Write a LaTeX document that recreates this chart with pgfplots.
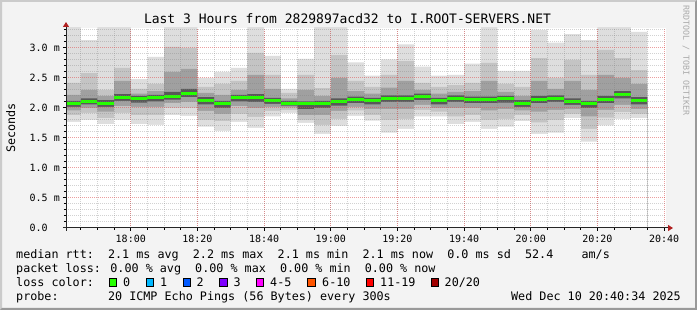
\documentclass[border=0pt]{standalone}
\usepackage{fontspec}
\setmainfont{DejaVu Sans Mono}
\usepackage{pgfplots}
\pgfplotsset{compat=1.18}
\usepackage{pgfplotstable}
\usetikzlibrary{arrows.meta}

\definecolor{bg}{HTML}{F3F3F3}
\definecolor{shadea}{HTML}{CBCBCB}
\definecolor{shadeb}{HTML}{999999}
\definecolor{smokeA}{HTML}{DEDEDE}
\definecolor{smokeB}{HTML}{C4C4C4}
\definecolor{smokeC}{HTML}{A0A0A0}
\definecolor{smokeD}{HTML}{585858}
\definecolor{loss0}{HTML}{26FF00}
\definecolor{loss1}{HTML}{00B8FF}
\definecolor{loss2}{HTML}{0059FF}
\definecolor{loss3}{HTML}{7E00FF}
\definecolor{loss4}{HTML}{FF00FF}
\definecolor{loss6}{HTML}{FF5500}
\definecolor{loss11}{HTML}{FF0000}
\definecolor{loss20}{HTML}{A10000}
\definecolor{mgrid}{HTML}{DE5050}
\definecolor{arrowc}{HTML}{B02020}
\definecolor{credit}{HTML}{AAAAAA}

\newcommand\legfont{\fontsize{11.74}{14}\selectfont}
\newcommand\tickfont{\fontsize{10}{12}\selectfont}
\newcommand\titlefont{\fontsize{13}{15}\selectfont}

\pgfplotstableread{
x lo q10 q25 q40 med q60 q75 q90 hi
-20 1.77 1.88 1.96 2.02 2.07 2.12 2.22 2.42 3.50
-15 1.80 1.92 2.00 2.06 2.11 2.16 2.30 2.58 3.13
-10 1.73 1.83 1.94 2.02 2.08 2.13 2.20 2.30 3.50
-5 1.80 1.92 2.03 2.12 2.18 2.23 2.45 2.67 3.50
0 1.73 1.88 2.02 2.09 2.15 2.20 2.24 2.32 2.48
5 1.72 1.88 2.02 2.11 2.17 2.22 2.28 2.40 2.85
10 1.88 2.00 2.08 2.14 2.19 2.27 2.60 3.02 3.50
15 1.87 2.00 2.10 2.18 2.24 2.32 2.65 3.00 3.50
20 1.69 1.80 1.95 2.06 2.13 2.18 2.25 2.35 2.50
25 1.62 1.78 1.90 2.00 2.07 2.12 2.22 2.40 2.60
30 1.77 1.90 2.03 2.11 2.17 2.22 2.30 2.45 2.67
35 1.67 1.85 2.00 2.10 2.17 2.23 2.55 2.92 3.50
40 1.86 1.95 2.02 2.07 2.12 2.17 2.32 2.55 2.87
45 1.92 1.97 2.01 2.04 2.08 2.12 2.16 2.25 2.32
50 1.75 1.80 1.88 1.98 2.07 2.11 2.30 2.55 2.82
55 1.57 1.72 1.88 2.00 2.07 2.12 2.20 2.33 3.50
60 1.70 1.82 1.95 2.04 2.10 2.16 2.50 2.88 3.50
65 1.87 1.96 2.02 2.08 2.14 2.19 2.28 2.45 2.76
70 1.79 1.88 1.98 2.06 2.12 2.17 2.24 2.35 2.54
75 1.59 1.80 1.98 2.10 2.16 2.21 2.34 2.55 2.81
80 1.65 1.82 1.98 2.10 2.16 2.21 2.45 2.78 3.06
85 1.86 1.97 2.05 2.13 2.19 2.24 2.30 2.42 2.69
90 1.86 1.94 2.00 2.06 2.12 2.17 2.24 2.35 2.54
95 1.73 1.86 2.00 2.10 2.16 2.21 2.27 2.38 2.55
100 1.77 1.88 2.00 2.08 2.14 2.19 2.28 2.42 2.74
105 1.65 1.80 1.96 2.08 2.14 2.19 2.45 2.75 3.50
110 1.69 1.82 1.98 2.09 2.15 2.20 2.27 2.40 2.62
115 1.78 1.88 1.96 2.02 2.08 2.13 2.20 2.35 2.62
120 1.57 1.76 1.94 2.08 2.14 2.20 2.45 2.83 3.30
125 1.59 1.80 1.97 2.10 2.16 2.21 2.32 2.50 3.09
130 1.83 1.90 1.98 2.05 2.11 2.16 2.45 2.80 3.23
135 1.44 1.65 1.86 2.00 2.07 2.12 2.30 2.55 3.13
140 1.71 1.84 1.97 2.08 2.14 2.20 2.55 2.97 3.50
145 1.82 1.93 2.05 2.16 2.22 2.28 2.50 2.83 3.50
150 1.83 1.90 1.98 2.06 2.12 2.18 2.40 2.63 3.27
155 1.83 1.90 1.98 2.06 2.12 2.18 2.40 2.63 3.27
}\smoke

\begin{document}
\begin{tikzpicture}
% background and bevel
\fill[bg] (0pt,0pt) rectangle (697pt,310pt);
\fill[shadea] (0pt,0pt) -- (0pt,310pt) -- (697pt,310pt) -- (695pt,308pt) -- (2pt,308pt) -- (2pt,2pt) -- cycle;
\fill[shadeb] (0pt,0pt) -- (697pt,0pt) -- (697pt,310pt) -- (695pt,308pt) -- (695pt,2pt) -- (2pt,2pt) -- cycle;

\begin{axis}[
  at={(66pt,82pt)}, anchor=south west,
  scale only axis, width=600pt, height=200pt,
  xmin=-19.43, xmax=160.57, ymin=0, ymax=3.3333,
  axis background/.style={fill=white},
  axis on top,
  axis x line*=bottom, axis y line*=left,
  x axis line style={black!85, line width=1pt, -{Triangle[length=5pt,width=6pt,color=arrowc]}, shorten >=-7pt, shorten <=-3pt},
  y axis line style={black!85, line width=1pt, -{Triangle[length=5pt,width=6pt,color=arrowc]}, shorten >=-6pt, shorten <=-3pt},
  xtick={0,20,...,160},
  xticklabels={18:00,18:20,18:40,19:00,19:20,19:40,20:00,20:20,20:40},
  minor xtick={-15,-10,...,155},
  ytick={0,0.5,1,1.5,2,2.5,3},
  yticklabels={0.0\hphantom{\ m},0.5 m,1.0 m,1.5 m,2.0 m,2.5 m,3.0 m},
  minor ytick={0.1,0.2,0.3,0.4,0.6,0.7,0.8,0.9,1.1,1.2,1.3,1.4,1.6,1.7,1.8,1.9,2.1,2.2,2.3,2.4,2.6,2.7,2.8,2.9,3.1,3.2,3.3},
  grid=both,
  major grid style={draw=mgrid, opacity=0.55, line width=1pt, dash pattern=on 1pt off 1pt},
  minor grid style={draw=gray, opacity=0.35, line width=1pt, dash pattern=on 1pt off 1pt},
  tick align=outside,
  major tick length=3pt, minor tick length=2pt,
  tick style={black, line width=1pt},
  xticklabel style={font=\tickfont, anchor=base, inner sep=0pt, yshift=-12pt},
  yticklabel style={font=\tickfont, anchor=east, inner sep=0pt, xshift=-3pt},
]
% smoke: each level filled down to zero, inner levels over outer ones
\addplot[fill=smokeA, draw=none, const plot mark left] table[x=x,y=hi]{\smoke} \closedcycle;
\addplot[fill=smokeB, draw=none, const plot mark left] table[x=x,y=q90]{\smoke} \closedcycle;
\addplot[fill=smokeC, draw=none, const plot mark left] table[x=x,y=q75]{\smoke} \closedcycle;
\addplot[fill=smokeD, draw=none, const plot mark left] table[x=x,y=q60]{\smoke} \closedcycle;
\addplot[fill=smokeC, draw=none, const plot mark left] table[x=x,y=q40]{\smoke} \closedcycle;
\addplot[fill=smokeB, draw=none, const plot mark left] table[x=x,y=q25]{\smoke} \closedcycle;
\addplot[fill=smokeA, draw=none, const plot mark left] table[x=x,y=q10]{\smoke} \closedcycle;
\addplot[fill=white, draw=none, const plot mark left] table[x=x,y=lo]{\smoke} \closedcycle;
\addplot[jump mark left, draw=loss0, line width=3pt] table[x=x,y=med]{\smoke};
\end{axis}

% title and labels
\node[anchor=base, inner sep=0pt, font=\titlefont] at (347.5pt,286.5pt) {Last 3 Hours from 2829897acd32 to I.ROOT-SERVERS.NET};
\node[rotate=90, inner sep=0pt, font=\legfont] at (10.8pt,182pt) {Seconds};
\node[rotate=-90, anchor=west, inner sep=0pt, font=\fontsize{8.3}{10}\selectfont, text=credit] at (686pt,305pt) {RRDTOOL / TOBI OETIKER};

% legend
\node[anchor=base west, inner sep=0pt, font=\legfont] at (16pt,51.3pt) {median rtt:\ \ 2.1 ms avg\ \ 2.2 ms max\ \ 2.1 ms min\ \ 2.1 ms now\ \ 0.0 ms sd\ \ 52.4\ \ \ \ am/s};
\node[anchor=base west, inner sep=0pt, font=\legfont] at (16pt,37.3pt) {packet loss: 0.00 \% avg\ \ 0.00 \% max\ \ 0.00 \% min\ \ 0.00 \% now};
\node[anchor=base west, inner sep=0pt, font=\legfont] at (16pt,23.3pt) {loss color:};
\node[anchor=base west, inner sep=0pt, font=\legfont] at (16pt,9.3pt) {probe:\ \ \ \ \ \ \ 20 ICMP Echo Pings (56 Bytes) every 300s};
\node[anchor=base east, inner sep=0pt, font=\legfont] at (681pt,9.3pt) {Wed Dec 10 20:40:34 2025};

\foreach \sx/\lx/\c/\t in {108.7/123/loss0/0, 145.7/160/loss1/1, 182.7/196.5/loss2/2, 219.3/233.3/loss3/3, 256/270/loss4/4-5, 307.3/322/loss6/6-10, 365.7/380/loss11/11-19, 430.7/444.5/loss20/{20/20}}{
  \draw[fill=\c, line width=0.9pt] (\sx pt+0.5pt,23.8pt) rectangle (\sx pt+7.9pt,31.2pt);
  \node[anchor=base west, inner sep=0pt, font=\legfont] at (\lx pt,23.3pt) {\t};
}
\end{tikzpicture}
\end{document}
